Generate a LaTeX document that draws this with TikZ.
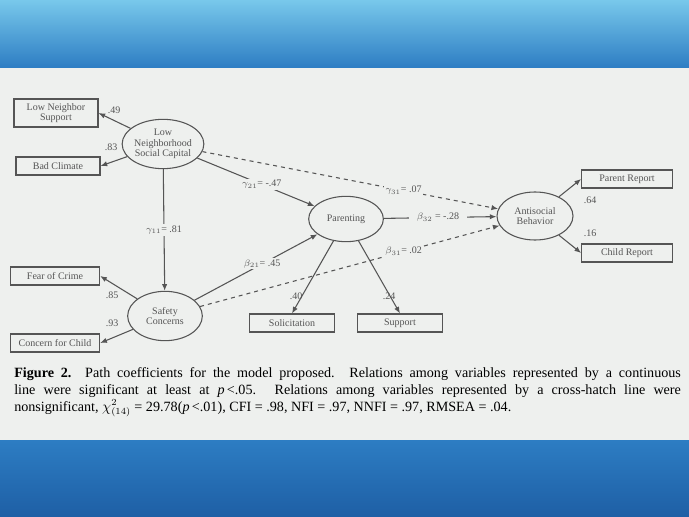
\documentclass[tikz,border=0pt]{standalone}
\usepackage{fontspec}
\setmainfont{Liberation Serif}
\usetikzlibrary{arrows.meta,shapes.geometric}
\definecolor{paper}{RGB}{238,240,238}
\definecolor{ink}{RGB}{85,85,85}
\definecolor{bluetop}{RGB}{120,200,235}
\definecolor{bluemid}{RGB}{45,125,195}
\definecolor{bluelow}{RGB}{30,95,165}
\begin{document}
\begin{tikzpicture}[x=0.75pt,y=-0.75pt,
  box/.style={draw=ink,thick,fill=paper,font=\fontsize{7.5}{8}\selectfont,text=ink,align=center,inner sep=0pt},
  lat/.style={draw=ink,thick,ellipse,fill=paper,font=\fontsize{7.5}{8}\selectfont,text=ink,align=center,inner sep=0pt},
  lab/.style={font=\fontsize{7.5}{8}\selectfont,text=ink,fill=paper,inner sep=1pt},
  nlab/.style={font=\fontsize{7.5}{8}\selectfont,text=ink,inner sep=0pt},
  path/.style={draw=ink,thick,-{Latex[length=5pt,width=4pt]}},
  dpath/.style={path,dashed}]
\useasboundingbox (0,0) rectangle (689,517);
\shade[top color=bluetop,bottom color=bluemid] (0,0) rectangle (689,68);
\shade[top color=bluemid,bottom color=bluelow] (0,440) rectangle (689,517);
\fill[paper] (0,68) rectangle (689,440);
% indicators
\node[box,minimum width=63pt,minimum height=21pt] (lns) at (56,113) {Low Neighbor\\Support};
\node[box,minimum width=63pt,minimum height=13.5pt] (bc) at (58,166) {Bad Climate};
\node[box,minimum width=67pt,minimum height=13.5pt] (fc) at (55,276) {Fear of Crime};
\node[box,minimum width=67pt,minimum height=13.5pt] (cc) at (55,343) {Concern for Child};
\node[box,minimum width=64pt,minimum height=13.5pt] (sol) at (292,323) {Solicitation};
\node[box,minimum width=64pt,minimum height=13.5pt] (sup) at (400,323) {Support};
\node[box,minimum width=68pt,minimum height=13.5pt] (pr) at (627,179) {Parent Report};
\node[box,minimum width=68pt,minimum height=13.5pt] (cr) at (627,253) {Child Report};
% latents
\node[lat,minimum width=56pt,minimum height=37pt] (lnsc) at (163,144) {Low\\Neighborhood\\Social Capital};
\node[lat,minimum width=56pt,minimum height=37pt] (sc) at (165,316) {Safety\\Concerns};
\node[lat,minimum width=56pt,minimum height=34pt] (par) at (346,219) {Parenting};
\node[lat,minimum width=57pt,minimum height=36pt] (ab) at (535,216) {Antisocial\\Behavior};
% loadings
\draw[path] (lnsc) -- (lns.east);
\draw[path] (lnsc) -- (bc.east);
\draw[path] (sc) -- (fc.east);
\draw[path] (sc) -- (cc.east);
\draw[path] (par) -- (sol.north);
\draw[path] (par) -- (sup.north);
\draw[path] (ab) -- (pr.west);
\draw[path] (ab) -- (cr.west);
\node[nlab] (l49) at (114,110) {.49};
\node[nlab] (l83) at (111,147) {.83};
\node[nlab] (l85) at (112,295) {.85};
\node[nlab] (l93) at (112,323) {.93};
\node[nlab] (l40) at (296,296) {.40};
\node[nlab] (l24) at (389,296) {.24};
\node[nlab] (l64) at (590,200) {.64};
\node[nlab] (l16) at (590,233) {.16};
% structural
\draw[dpath] (lnsc) -- (ab) node[lab,pos=0.68] (g31) {$\gamma_{31}$= .07};
\draw[dpath] (sc) -- (ab) node[lab,pos=0.68] (b31) {$\beta_{31}$= .02};
\draw[path] (lnsc) -- (sc) node[lab,midway] (g11) {$\gamma_{11}$= .81};
\draw[path] (lnsc) -- (par) node[lab,pos=0.55] (g21) {$\gamma_{21}$= -.47};
\draw[path] (sc) -- (par) node[lab,pos=0.55] (b21) {$\beta_{21}$= .45};
\draw[path] (par) -- (ab) node[lab,pos=0.48,inner xsep=6pt] (b32) {$\beta_{32}$ = -.28};
% caption
\node[anchor=north west,text width=500pt,align=justify,inner sep=0pt,font=\fontsize{10.6}{12.7}\selectfont] (cap) at (14,367)
{\textbf{Figure 2.}\ \ Path coefficients for the model proposed. Relations among variables represented by a continuous\linebreak line were significant at least at \textit{p}\,<.05. Relations among variables represented by a cross-hatch line were\linebreak nonsignificant, $\chi^2_{(14)}$ = 29.78(\textit{p}\,<.01), CFI = .98, NFI = .97, NNFI = .97, RMSEA = .04.};
\end{tikzpicture}
\end{document}
